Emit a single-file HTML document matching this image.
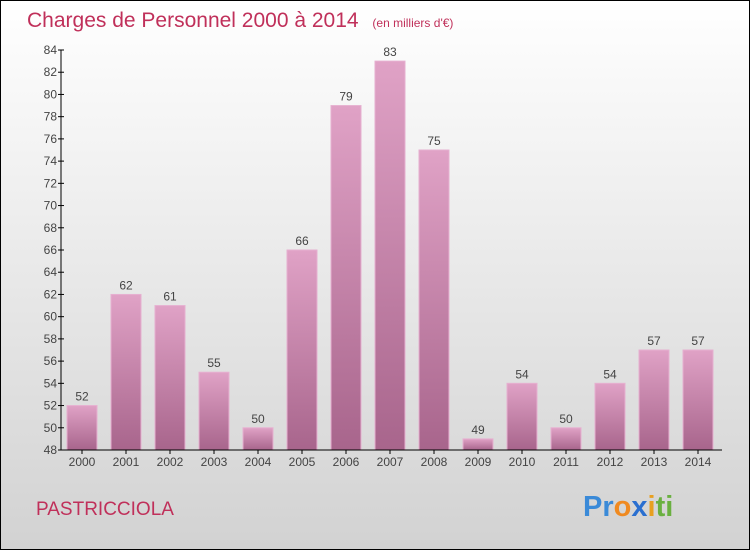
<!DOCTYPE html>
<html><head><meta charset="utf-8"><style>
body{margin:0}
svg text{font-family:"Liberation Sans",sans-serif}
</style></head><body>
<svg width="750" height="550" viewBox="0 0 750 550">
<defs>
<linearGradient id="bg" x1="0" y1="0" x2="0" y2="1"><stop offset="0" stop-color="#ffffff"/><stop offset="1" stop-color="#d2d2d2"/></linearGradient>
<linearGradient id="bar" x1="0" y1="0" x2="0" y2="1"><stop offset="0" stop-color="#e0a2c6"/><stop offset="1" stop-color="#a8658c"/></linearGradient>
</defs>
<rect x="0.5" y="0.5" width="749" height="549" fill="url(#bg)" stroke="#000"/>
<text x="27" y="27" font-size="21" fill="#c0305a">Charges de Personnel 2000 à 2014 <tspan font-size="12" dx="8">(en milliers d'€)</tspan></text>
<g id="yaxis"></g><g id="bars"></g><g id="xaxis"></g>
<text x="36" y="515" font-size="19" fill="#c0305a">PASTRICCIOLA</text>
<text x="583" y="516" font-size="29" font-weight="bold"><tspan fill="#3a8ad8">Pr</tspan><tspan fill="#f08a20">o</tspan><tspan fill="#2a6fd0">x</tspan><tspan fill="#e8a020">i</tspan><tspan fill="#6ab040">ti</tspan></text>
</svg>
<script>
const categories=["2000","2001","2002","2003","2004","2005","2006","2007","2008","2009","2010","2011","2012","2013","2014"];
const values=[52,62,61,55,50,66,79,83,75,49,54,50,54,57,57];
const yTicks=[48,50,52,54,56,58,60,62,64,66,68,70,72,74,76,78,80,82,84];
const NS="http://www.w3.org/2000/svg";
const yMin=48,yMax=84,plotTop=50,plotBot=450,axX=61;
const y=v=>plotBot-(v-yMin)/(yMax-yMin)*(plotBot-plotTop);
const x=i=>82+i*44;
function mk(t,a,p){const e=document.createElementNS(NS,t);for(const k in a)e.setAttribute(k,a[k]);p.appendChild(e);return e;}
const ya=document.getElementById('yaxis'),bg=document.getElementById('bars'),xa=document.getElementById('xaxis');
const yl=mk('line',{x1:axX,y1:plotTop,x2:axX,y2:plotBot,stroke:'#000'},ya);


yTicks.forEach(t=>{
 mk('line',{x1:axX-3,x2:axX+3,y1:y(t),y2:y(t),stroke:'#000'},ya);
 const tx=mk('text',{x:axX-4,y:y(t)+4,'font-size':12,fill:'#444','text-anchor':'end'},ya);
 tx.textContent=t;
 
 
});
const xl=mk('line',{x1:axX,y1:plotBot,x2:722,y2:plotBot,stroke:'#000'},xa);


categories.forEach((c,i)=>{
 const v=values[i];
 const r=mk('rect',{x:x(i)-15,y:y(v),width:30,height:plotBot-y(v),fill:'url(#bar)',stroke:'#e6b0d0','stroke-width':1},bg);
 
 
 const lb=mk('text',{x:x(i),y:y(v)-5,'font-size':12,fill:'#444','text-anchor':'middle'},bg);
 lb.textContent=v;
 
 
 mk('line',{x1:x(i),x2:x(i),y1:plotBot,y2:plotBot+4,stroke:'#000'},xa);
 const t=mk('text',{x:x(i),y:plotBot+16,'font-size':12,fill:'#444','text-anchor':'middle'},xa);
 t.textContent=c;
 
 
});
</script>
</body></html>
